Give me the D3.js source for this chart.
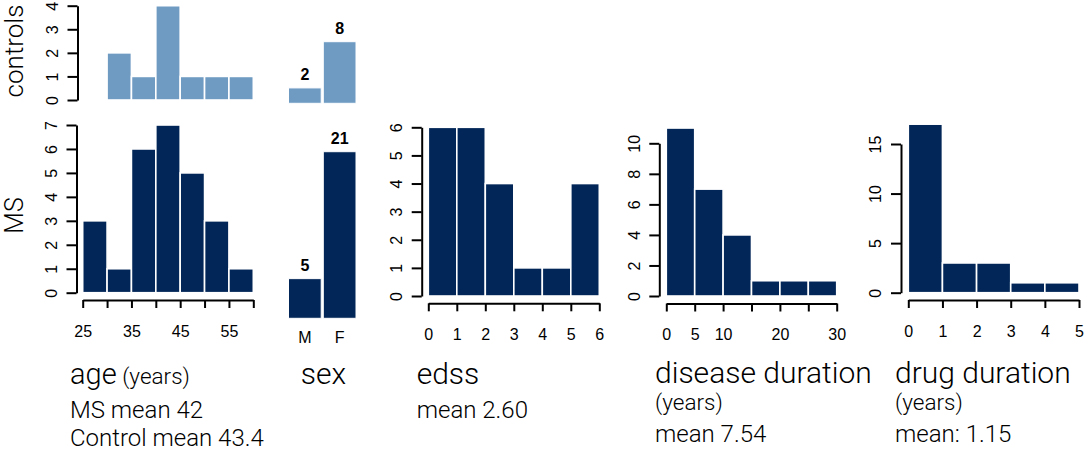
<!DOCTYPE html>
<html>
<head>
<meta charset="utf-8">
<script src="https://cdn.jsdelivr.net/npm/d3@7"></script>
<style>
  html, body { margin: 0; padding: 0; background: #fff; }
  svg { display: block; }
  .tick text { font-family: "Liberation Sans", Arial, sans-serif; font-size: 16px; fill: #000; }
  .ttl { font-family: Roboto, "Open Sans", sans-serif; font-weight: 300; fill: #000; }
</style>
</head>
<body>
<svg id="chart" width="1084" height="456"></svg>
<script>
// ---------------- data ----------------
const ageBins = [25, 30, 35, 40, 45, 50, 55, 60];
const ageMS = [3, 1, 6, 7, 5, 3, 1];
const ageControls = [0, 2, 1, 4, 1, 1, 1];
const ageTickLabels = [25, 35, 45, 55];
const ageMSYTicks = [0, 1, 2, 3, 4, 5, 6, 7];
const ageControlsYTicks = [0, 1, 2, 3, 4];

const sexCategories = ["M", "F"];
const sexMS = [5, 21];
const sexControls = [2, 8];

const edssBins = [0, 1, 2, 3, 4, 5, 6];
const edssMS = [6, 6, 4, 1, 1, 4];
const edssYTicks = [0, 1, 2, 3, 4, 5, 6];
const edssTickLabels = [0, 1, 2, 3, 4, 5, 6];

const diseaseBins = [0, 5, 10, 15, 20, 25, 30];
const diseaseMS = [11, 7, 4, 1, 1, 1];
const diseaseYTicks = [0, 2, 4, 6, 8, 10];
const diseaseTickLabels = [0, 5, 10, 20, 30];

const drugBins = [0, 1, 2, 3, 4, 5];
const drugMS = [17, 3, 3, 1, 1];
const drugYTicks = [0, 5, 10, 15];
const drugTickLabels = [0, 1, 2, 3, 4, 5];

// ---------------- styles ----------------
const colMS = "#022657";
const colCtrl = "#6f9bc3";

const svg = d3.select("#chart");
svg.append("rect").attr("width", 1084).attr("height", 456).attr("fill", "#fff");

function hist(x, y, bins, counts, color) {
  const data = counts.map((c, i) => ({ x0: bins[i], x1: bins[i + 1], c }));
  svg.append("g").selectAll("rect").data(data.filter(d => d.c > 0)).join("rect")
    .attr("x", d => x(d.x0))
    .attr("width", d => x(d.x1) - x(d.x0))
    .attr("y", d => y(d.c))
    .attr("height", d => y(0) - y(d.c))
    .attr("fill", color)
    .attr("stroke", "#fff")
    .attr("stroke-width", 1.6);
}

function yAxis(y, ticks, xPos) {
  const g = svg.append("g").attr("transform", `translate(${xPos},0)`)
    .call(d3.axisLeft(y).tickValues(ticks).tickSize(10).tickSizeOuter(0).tickFormat(d3.format("d")));
  g.selectAll("path, line").attr("stroke", "#000").attr("stroke-width", 2);
  g.selectAll(".tick text")
    .attr("x", null).attr("dy", "0.36em")
    .attr("text-anchor", "middle")
    .attr("transform", "translate(-25.5,0) rotate(-90)");
}

function xAxis(x, ticks, labels, yPos) {
  const g = svg.append("g").attr("transform", `translate(0,${yPos})`)
    .call(d3.axisBottom(x).tickValues(ticks).tickSize(8).tickSizeOuter(0)
      .tickFormat(d => labels.includes(d) ? String(d) : ""));
  g.selectAll("path, line").attr("stroke", "#000").attr("stroke-width", 2);
  g.selectAll(".tick text").attr("y", 31).attr("dy", "0.36em");
}

// ---------------- age ----------------
const xAge = d3.scaleLinear().domain([25, 60]).range([82.7, 253.3]);
const yAgeMS = d3.scaleLinear().domain([0, 7]).range([292.7, 125]);
const yAgeC = d3.scaleLinear().domain([0, 4]).range([100, 5.7]);
hist(xAge, yAgeC, ageBins, ageControls, colCtrl);
hist(xAge, yAgeMS, ageBins, ageMS, colMS);
yAxis(yAgeC, ageControlsYTicks, 77.5);
yAxis(yAgeMS, ageMSYTicks, 76.5);
xAxis(xAge, ageBins, ageTickLabels, 300);

// ---------------- sex ----------------
const xSex = d3.scaleBand().domain(sexCategories).range([288.5, 356]).paddingInner(0.06);
const ySexMS = d3.scaleLinear().domain([0, 21]).range([318.3, 151.7]);
const ySexC = d3.scaleLinear().domain([0, 8]).range([103.3, 41.7]);
function sexBars(y, counts, color) {
  const data = sexCategories.map((k, i) => ({ k, c: counts[i] }));
  const g = svg.append("g");
  g.selectAll("rect").data(data).join("rect")
    .attr("x", d => xSex(d.k)).attr("width", xSex.bandwidth())
    .attr("y", d => y(d.c)).attr("height", d => y(0) - y(d.c))
    .attr("fill", color).attr("stroke", "#fff").attr("stroke-width", 1);
  g.selectAll("text").data(data).join("text")
    .attr("x", d => xSex(d.k) + xSex.bandwidth() / 2)
    .attr("y", d => y(d.c) - 7.5)
    .attr("text-anchor", "middle")
    .attr("font-family", "Liberation Sans, Arial, sans-serif")
    .attr("font-weight", "bold").attr("font-size", 16)
    .text(d => d.c);
}
sexBars(ySexC, sexControls, colCtrl);
sexBars(ySexMS, sexMS, colMS);
svg.append("g").selectAll("text").data(sexCategories).join("text")
  .attr("x", d => xSex(d) + xSex.bandwidth() / 2)
  .attr("y", 342.5)
  .attr("text-anchor", "middle")
  .attr("font-family", "Liberation Sans, Arial, sans-serif")
  .attr("font-size", 16)
  .text(d => d);

// ---------------- edss ----------------
const xEdss = d3.scaleLinear().domain([0, 6]).range([428.3, 599.3]);
const yEdss = d3.scaleLinear().domain([0, 6]).range([296, 127.3]);
hist(xEdss, yEdss, edssBins, edssMS, colMS);
yAxis(yEdss, edssYTicks, 421.7);
xAxis(xEdss, edssBins, edssTickLabels, 303.3);

// ---------------- disease duration ----------------
const xDis = d3.scaleLinear().domain([0, 30]).range([666.3, 836.7]);
const yDis = d3.scaleLinear().domain([0, 10]).range([296, 143.3]);
hist(xDis, yDis, diseaseBins, diseaseMS, colMS);
yAxis(yDis, diseaseYTicks, 659.3);
xAxis(xDis, diseaseBins, diseaseTickLabels, 303.5);

// ---------------- drug duration ----------------
const xDrug = d3.scaleLinear().domain([0, 5]).range([908.3, 1079]);
const yDrug = d3.scaleLinear().domain([0, 15]).range([292.7, 144]);
hist(xDrug, yDrug, drugBins, drugMS, colMS);
yAxis(yDrug, drugYTicks, 901);
xAxis(xDrug, drugBins, drugTickLabels, 300);

// ---------------- row titles ----------------
svg.append("text").attr("class", "ttl").attr("font-size", 26)
  .attr("text-anchor", "middle")
  .attr("transform", "translate(23,51) rotate(-90)").text("controls");
svg.append("text").attr("class", "ttl").attr("font-size", 25)
  .attr("text-anchor", "middle")
  .attr("transform", "translate(22.5,215.5) rotate(-90)").text("MS");

// ---------------- bottom titles ----------------
function title(x, y, parts) {
  const t = svg.append("text").attr("class", "ttl").attr("x", x).attr("y", y);
  parts.forEach(p => t.append("tspan").attr("font-size", p[1]).text(p[0]));
}
title(70, 384.3, [["age", 29], [" (years)", 22.5]]);
title(70, 418.3, [["MS mean 42", 24]]);
title(70, 446, [["Control mean 43.4", 24]]);
title(300.7, 384.3, [["sex", 30]]);
title(416.7, 384.3, [["edss", 30]]);
title(416.7, 418.3, [["mean 2.60", 24]]);
title(655, 383.3, [["disease duration", 30]]);
title(655, 409.5, [["(years)", 22.5]]);
title(655, 442.3, [["mean 7.54", 24]]);
title(895, 383.3, [["drug duration", 30]]);
title(895, 409.5, [["(years)", 22.5]]);
title(895, 442.3, [["mean: 1.15", 24]]);
</script>
</body>
</html>
